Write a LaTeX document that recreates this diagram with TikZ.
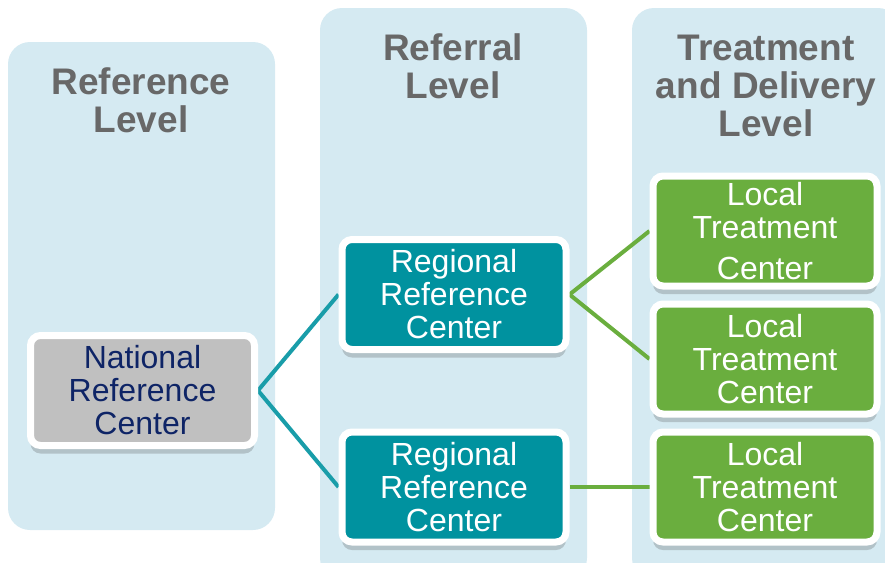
\documentclass[tikz,border=0pt]{standalone}
\usepackage{fontspec}
\setmainfont{Liberation Sans}
\usetikzlibrary{shadows}

\definecolor{panelblue}{RGB}{213,234,242}
\definecolor{headgray}{RGB}{104,104,104}
\definecolor{natgray}{RGB}{192,192,192}
\definecolor{natblue}{RGB}{14,36,102}
\definecolor{regteal}{RGB}{0,146,159}
\definecolor{locgreen}{RGB}{106,174,62}

\pgfdeclarelayer{back}
\pgfdeclarelayer{wires}
\pgfsetlayers{back,wires,main}

\tikzset{
    panel/.style={fill=panelblue, rounded corners=22pt, minimum width=267pt, inner sep=0pt},
    heading/.style={text=headgray, align=center, font=\fontsize{37}{38}\selectfont\bfseries},
    site/.style={draw=white, line width=7pt, rounded corners=10pt, minimum width=224pt, minimum height=110pt,
        align=center, font=\fontsize{32}{33}\selectfont,
        drop shadow={shadow xshift=0pt, shadow yshift=-8pt, opacity=.25, fill=black!70}},
    wire/.style={line width=4pt},
}

\begin{document}
\begin{tikzpicture}[x=1pt, y=-1pt]
    \useasboundingbox (0,0) rectangle (885,562);

    % the three levels
    \begin{pgfonlayer}{back}
        \node[panel, minimum height=488pt] (refpanel) at (141.5, 286) {};
        \node[panel, minimum height=572pt] (referpanel) at (453.5, 294) {};
        \node[panel, minimum height=572pt, minimum width=268pt] (treatpanel) at (766, 294) {};
    \end{pgfonlayer}

    \node[heading] (refhead) at (141, 100) {Reference\\Level};
    \node[heading] (referhead) at (453, 66) {Referral\\Level};
    \node[heading] (treathead) at (766, 86) {Treatment\\and Delivery\\Level};

    % centers
    \node[site, fill=natgray, text=natblue] (nat) at (142.5, 390.5) {National\\Reference\\Center};

    \node[site, fill=regteal, text=white] (reg1) at (454, 294.5) {Regional\\Reference\\Center};
    \node[site, fill=regteal, text=white] (reg2) at (454, 487) {Regional\\Reference\\Center};

    \node[site, fill=locgreen, text=white] (loc1) at (765, 231) {Local\\Treatment\\[8pt]Center};
    \node[site, fill=locgreen, text=white] (loc2) at (765, 359) {Local\\Treatment\\Center};
    \node[site, fill=locgreen, text=white] (loc3) at (765, 487) {Local\\Treatment\\Center};

    \begin{pgfonlayer}{wires}
        \draw[wire, regteal!90!white] (nat.east) -- (reg1.west);
        \draw[wire, regteal!90!white] (nat.east) -- (reg2.west);

        \draw[wire, locgreen] (reg1.east) -- (loc1.west);
        \draw[wire, locgreen] (reg1.east) -- (loc2.west);
        \draw[wire, locgreen] (reg2.east) -- (loc3.west |- reg2.east);
    \end{pgfonlayer}
\end{tikzpicture}
\end{document}
